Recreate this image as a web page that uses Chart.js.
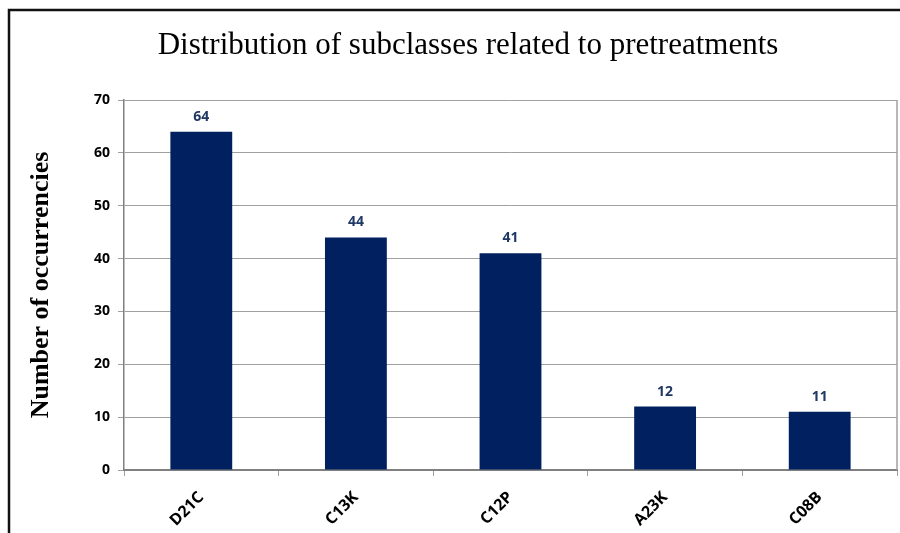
<!DOCTYPE html>
<html>
<head>
<meta charset="utf-8">
<script src="https://cdn.jsdelivr.net/npm/chart.js@4.4.1/dist/chart.umd.min.js"></script>
<style>
  html, body { margin: 0; padding: 0; background: #fff; }
  #wrap { width: 900px; height: 533px; }
</style>
</head>
<body>
<div id="wrap"><canvas id="chart" width="900" height="533"></canvas></div>
<script>
const categories = ['D21C', 'C13K', 'C12P', 'A23K', 'C08B'];
const occurrences = [64, 44, 41, 12, 11];
const chartTitle = 'Distribution of subclasses related to pretreatments';
const yTitle = 'Number of occurrencies';

const tickFont = '"Open Sans", "Liberation Sans", sans-serif';

// frame, title, right border and value labels
const decorations = {
    id: 'decorations',
    afterDraw(chart) {
        const ctx = chart.ctx;
        const area = chart.chartArea;
        ctx.save();
        // outer frame (left + top)
        ctx.strokeStyle = '#111';
        ctx.lineWidth = 2.5;
        ctx.beginPath();
        ctx.moveTo(9, 533);
        ctx.lineTo(9, 10);
        ctx.lineTo(900, 10);
        ctx.stroke();

        // right border of plot area
        ctx.strokeStyle = '#a0a0a0';
        ctx.lineWidth = 1.5;
        ctx.beginPath();
        ctx.moveTo(area.right, area.top);
        ctx.lineTo(area.right, area.bottom);
        ctx.stroke();

        // title
        ctx.fillStyle = '#000';
        ctx.font = '31px "Liberation Serif", serif';
        ctx.textAlign = 'center';
        ctx.textBaseline = 'middle';
        ctx.fillText(chartTitle, 468, 46);

        // value labels
        const meta = chart.getDatasetMeta(0);
        ctx.fillStyle = '#1f3864';
        ctx.font = 'bold 14px ' + tickFont;
        ctx.textBaseline = 'bottom';
        meta.data.forEach((bar, i) => {
            ctx.fillText(occurrences[i], bar.x, bar.y - 8);
        });
        ctx.restore();
    }
};

new Chart(document.getElementById('chart').getContext('2d'), {
    type: 'bar',
    data: {
        labels: categories,
        datasets: [{
            data: occurrences,
            backgroundColor: '#002060',
            borderWidth: 0,
            barPercentage: 0.8,
            categoryPercentage: 0.5
        }]
    },
    options: {
        responsive: false,
        animation: false,
        layout: { padding: { top: 100, left: 26, right: 3, bottom: 0 } },
        plugins: {
            legend: { display: false },
            tooltip: { enabled: false },
            title: { display: false }
        },
        scales: {
            x: {
                afterFit(scale) { scale.height = 63; },
                grid: {
                    offset: true,
                    drawOnChartArea: false,
                    color: '#a0a0a0',
                    tickLength: 6
                },
                border: { color: '#808080', width: 2 },
                ticks: {
                    color: '#000',
                    font: { family: tickFont, size: 16, weight: 'bold' },
                    maxRotation: 45,
                    minRotation: 45,
                    padding: 12
                }
            },
            y: {
                min: 0,
                max: 70,
                afterFit(scale) { scale.width = 98; },
                grid: { color: '#a0a0a0', lineWidth: 1, tickLength: 6 },
                border: { color: '#808080', width: 1.5 },
                ticks: {
                    stepSize: 10,
                    color: '#000',
                    font: { family: tickFont, size: 14, weight: 'bold' },
                    padding: 8
                },
                title: {
                    display: true,
                    text: yTitle,
                    color: '#000',
                    font: { family: '"Liberation Serif", serif', size: 26, weight: 'bold' },
                    padding: { top: 0, bottom: 0 }
                }
            }
        }
    },
    plugins: [decorations]
});
</script>
</body>
</html>
